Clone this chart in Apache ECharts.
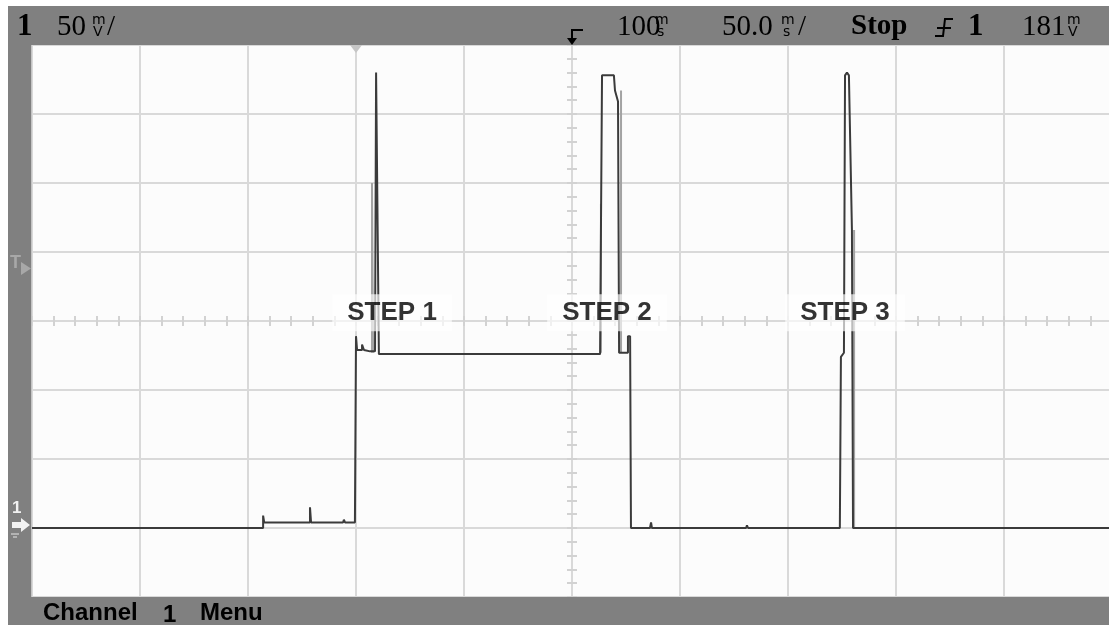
<!DOCTYPE html>
<html><head><meta charset="utf-8">
<script src="https://cdn.jsdelivr.net/npm/echarts@6/dist/echarts.min.js"></script>
<style>html,body{margin:0;padding:0;background:#fff;}#c{width:1109px;height:625px;}</style>
</head><body><div id="c"></div>
<script>
// ---- data (time in ms from left edge of screen, voltage in mV above ground) ----
const traceTimeMs = [0, 107, 107, 107.5, 128.7, 128.7, 129.2, 144, 144.4, 144.9,
  149.5, 150, 150.5, 152.8, 152.8, 153.7, 156.5, 158.8, 159.3, 160.2,
  160.6, 263, 263.9, 269.4, 269.9, 271.3, 271.8, 275.9, 275.9, 276.9,
  277.3, 286.1, 286.6, 287, 330.6, 331, 331.5, 374, 374.5, 375.9,
  376.4, 377.3, 378.2, 379.6, 380.1, 500];
const traceMv = [0, 0, 9, 4, 4, 15, 4, 4, 6, 4,
  4, 139, 129, 129, 133, 129, 128, 128, 330, 330,
  126, 126, 328, 328, 317, 309, 127, 127, 139, 139,
  0, 0, 4, 0, 0, 2, 0, 0, 124, 127,
  328, 330, 328, 216, 0, 0];
// persistence (lighter) trace fragments, null = gap
const ghostTimeMs = [157.4, 157.4, 157.9, 157.9, null, 263.4, 263.4, null, 272.7, 272.7, null, 380.6, 380.6];
const ghostMv = [127, 250, 250, 127, null, 127, 235, null, 317, 127, null, 216, 0];
// annotations
const stepLabels = ['STEP 1', 'STEP 2', 'STEP 3'];
const stepTimeMs = [166.7, 266.2, 376.4];
const stepMv = [156, 156, 156];
// axis settings (50 mV/div, 50 ms/div)
const timeRangeMs = [0, 500];
const voltRangeMv = [-50, 350];
const divMs = 50, divMv = 50;

const zip = (a, b) => a.map((v, i) => (v === null || b[i] === null) ? ['-', '-'] : [v, b[i]]);

const chart = echarts.init(document.getElementById('c'), null, {renderer: 'canvas'});
const gridCol = '#d9d9d9';
const hidden = {axisLine: {show: false}, axisLabel: {show: false}, axisTick: {show: false}, splitLine: {show: false}};
const tickAxisX = (inside) => ({
  type: 'value', gridIndex: 0, min: -250, max: 250, interval: divMs / 5, position: 'bottom',
  axisLine: {show: false, onZero: true, onZeroAxisIndex: 1},
  axisTick: {show: true, inside: inside, length: 5, lineStyle: {color: '#d2d2d2', width: 2}},
  axisLabel: {show: false}, splitLine: {show: false}
});
const tickAxisY = (inside) => ({
  type: 'value', gridIndex: 0, min: -200, max: 200, interval: divMv / 5, position: 'left',
  axisLine: {show: false, onZero: true, onZeroAxisIndex: 1},
  axisTick: {show: true, inside: inside, length: 5, lineStyle: {color: '#d2d2d2', width: 2}},
  axisLabel: {show: false}, splitLine: {show: false}
});

const T = (text, x, y, font, fill, extra) => Object.assign({
  type: 'text', x: x, y: y, z: 100,
  style: {text: text, font: font, fill: fill || '#000', textAlign: 'left', textVerticalAlign: 'middle'}
}, extra || {});
const serif = "29px 'Liberation Serif'";
const serifB = "bold 31px 'Liberation Serif'";
const unitF = "14px 'DejaVu Sans'";
const sansB = "bold 24px 'Liberation Sans'";

const option = {
  animation: false,
  backgroundColor: '#ffffff',
  grid: {left: 32, top: 45, right: -3, bottom: 28, show: true, backgroundColor: '#fcfcfc', borderWidth: 0, outerBoundsMode: 'none'},
  xAxis: [
    Object.assign({}, hidden, {type: 'value', min: timeRangeMs[0], max: timeRangeMs[1], interval: divMs,
      splitLine: {show: true, lineStyle: {color: gridCol, width: 2}}}),
    tickAxisX(false), tickAxisX(true)
  ],
  yAxis: [
    Object.assign({}, hidden, {type: 'value', min: voltRangeMv[0], max: voltRangeMv[1], interval: divMv,
      splitLine: {show: true, lineStyle: {color: gridCol, width: 2}}}),
    tickAxisY(false), tickAxisY(true)
  ],
  series: [
    {type: 'line', xAxisIndex: 0, yAxisIndex: 0, data: zip(ghostTimeMs, ghostMv), symbol: 'none',
      lineStyle: {color: '#a3a3a3', width: 2}, z: 3, connectNulls: false},
    {type: 'line', xAxisIndex: 0, yAxisIndex: 0, data: zip(traceTimeMs, traceMv), symbol: 'none',
      lineStyle: {color: '#3b3b3b', width: 2}, z: 4},
    {type: 'scatter', xAxisIndex: 0, yAxisIndex: 0, symbolSize: 0, z: 10,
      data: stepLabels.map((s, i) => ({name: s, value: [stepTimeMs[i], stepMv[i]]})),
      label: {show: true, position: 'inside', formatter: p => p.name, color: '#000',
        fontFamily: 'Liberation Sans', fontWeight: 'bold', fontSize: 26,
        backgroundColor: 'rgba(255,255,255,0.82)', padding: [7, 15, 4, 15]}}
  ],
  graphic: [
    // frame bars
    {type: 'rect', shape: {x: 8, y: 6, width: 1101, height: 39}, style: {fill: '#808080'}, z: 50},
    {type: 'rect', shape: {x: 8, y: 6, width: 24, height: 619}, style: {fill: '#808080'}, z: 50},
    {type: 'rect', shape: {x: 8, y: 597, width: 1101, height: 28}, style: {fill: '#808080'}, z: 50},
    {type: 'rect', shape: {x: 31, y: 45, width: 1, height: 552}, style: {fill: '#c4c4c4'}, z: 51},
    // top status line
    T('1', 17, 27, serifB),
    T('50', 57, 27, serif),
    T('m', 92, 20, unitF), T('V', 93, 32, unitF),
    T('/', 107, 27, serif),
    {type: 'polyline', shape: {points: [[583, 30], [572, 30], [572, 41]]}, style: {stroke: '#000', lineWidth: 2, fill: null}, z: 100},
    {type: 'polygon', shape: {points: [[567, 38], [577, 38], [572, 45]]}, style: {fill: '#000'}, z: 100},
    T('100', 617, 27, serif),
    T('m', 655, 20, unitF), T('s', 657, 32, unitF),
    T('50.0', 722, 27, serif),
    T('m', 781, 20, unitF), T('s', 783, 32, unitF),
    T('/', 798, 27, serif),
    T('Stop', 851, 27, "bold 29px 'Liberation Serif'"),
    {type: 'polyline', shape: {points: [[935, 36], [943, 36], [945, 19], [953, 19]]}, style: {stroke: '#000', lineWidth: 2, fill: null}, z: 100},
    {type: 'polyline', shape: {points: [[937, 28], [951, 28]]}, style: {stroke: '#000', lineWidth: 2, fill: null}, z: 100},
    T('1', 968, 27, serifB),
    T('181', 1022, 27, serif),
    T('m', 1067, 20, unitF), T('V', 1068, 32, unitF),
    // bottom menu line
    T('Channel', 43, 613, sansB),
    T('1', 163, 615, sansB),
    T('Menu', 200, 613, sansB),
    // left markers
    T('T', 10, 263, "bold 18px 'Liberation Sans'", '#a8a8a8'),
    {type: 'polygon', shape: {points: [[21, 262], [21, 275], [31, 268.5]]}, style: {fill: '#a8a8a8'}, z: 100},
    T('1', 12, 508, "bold 17px 'Liberation Sans'", '#f2f2f2'),
    {type: 'polygon', shape: {points: [[12, 522], [21, 522], [21, 518], [30, 525], [21, 532], [21, 528], [12, 528]]}, style: {fill: '#f2f2f2'}, z: 100},
    {type: 'polyline', shape: {points: [[11, 534], [19, 534]]}, style: {stroke: '#e6e6e6', lineWidth: 1}, z: 100},
    {type: 'polyline', shape: {points: [[13, 537], [17, 537]]}, style: {stroke: '#e6e6e6', lineWidth: 1}, z: 100},
    // trigger position marker on top edge
    {type: 'polygon', shape: {points: [[350, 45], [362, 45], [356, 53]]}, style: {fill: '#c6c6c6'}, z: 60}
  ]
};
chart.setOption(option);
</script>
</body></html>
